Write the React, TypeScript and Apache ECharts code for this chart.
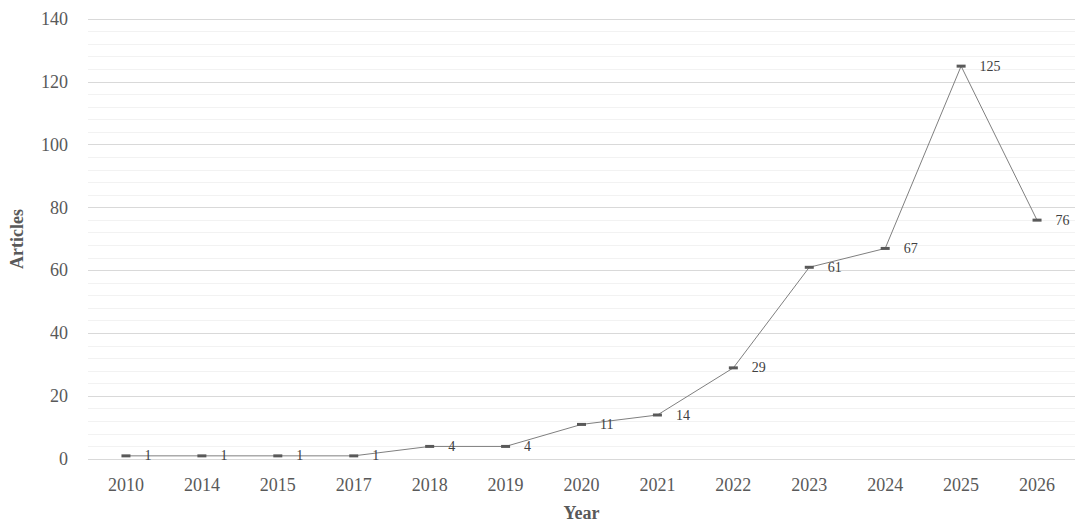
import React, { useEffect, useRef } from "react";
import * as echarts from "echarts";

const years = ["2010", "2014", "2015", "2017", "2018", "2019", "2020", "2021", "2022", "2023", "2024", "2025", "2026"];
const articles = [1, 1, 1, 1, 4, 4, 11, 14, 29, 61, 67, 125, 76];
const yMin = 0;
const yMax = 140;
const yInterval = 20;

export default function App() {
  const ref = useRef<HTMLDivElement>(null);
  useEffect(() => {
    document.body.style.margin = "0";
    const chart = echarts.init(ref.current!, null, { renderer: "svg" });
    const font = "Liberation Serif";
    chart.setOption({
      animation: false,
      backgroundColor: "#ffffff",
      grid: { left: 86, right: 6, top: 19, bottom: 69 },
      xAxis: {
        type: "category",
        data: years,
        boundaryGap: true,
        axisLine: { show: false },
        axisTick: { show: false },
        axisLabel: { color: "#595959", fontFamily: font, fontSize: 18, margin: 17 },
        name: "Year",
        nameLocation: "middle",
        nameGap: 45,
        nameTextStyle: { color: "#595959", fontFamily: font, fontSize: 18, fontWeight: "bold" },
      },
      yAxis: {
        type: "value",
        min: yMin,
        max: yMax,
        interval: yInterval,
        axisLine: { show: false },
        axisTick: { show: false },
        axisLabel: { color: "#595959", fontFamily: font, fontSize: 18, margin: 20 },
        splitLine: { show: true, lineStyle: { color: "#d9d9d9", width: 1 } },
        minorTick: { show: false, splitNumber: 5 },
        minorSplitLine: { show: true, lineStyle: { color: "#f2f2f2", width: 1 } },
        name: "Articles",
        nameLocation: "middle",
        nameGap: 62,
        nameTextStyle: { color: "#595959", fontFamily: font, fontSize: 18, fontWeight: "bold" },
      },
      series: [
        {
          type: "line",
          data: articles,
          symbol: "rect",
          symbolSize: [9, 3],
          itemStyle: { color: "#595959" },
          lineStyle: { color: "#7f7f7f", width: 1 },
          label: {
            show: true,
            position: "right",
            distance: 14,
            color: "#404040",
            fontFamily: font,
            fontSize: 14,
          },
        },
      ],
    });
    return () => chart.dispose();
  }, []);
  return <div ref={ref} style={{ width: 1081, height: 528 }} />;
}
